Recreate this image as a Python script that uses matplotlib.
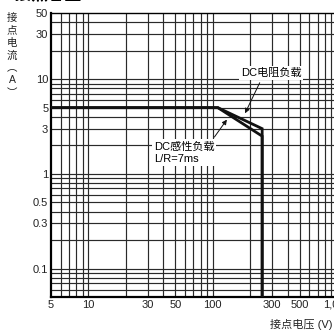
import numpy as np
import matplotlib.pyplot as plt
from matplotlib.ticker import FixedLocator, NullFormatter

plt.rcParams['font.family'] = ['Liberation Sans', 'Noto Sans CJK SC', 'DejaVu Sans']

# switching limit curves (voltage V, current A)
res_v = [5, 110, 250, 250]
res_a = [5, 5, 3, 0.05]
ind_v = [5, 110, 250, 250]
ind_a = [5, 5, 2.5, 0.05]

x_ticks = [5, 10, 30, 50, 100, 300, 500, 1000]
x_labels = ['5', '10', '30', '50', '100', '300', '500', '1,000']
y_ticks = [0.1, 0.3, 0.5, 1, 3, 5, 10, 30, 50]
y_labels = ['0.1', '0.3', '0.5', '1', '3', '5', '10', '30', '50']

W, H = 334, 331
fig = plt.figure(figsize=(W / 100, H / 100), dpi=100)
ax = fig.add_axes([51 / W, 1 - 297 / H, (337 - 51) / W, (297 - 13) / H])
ax.set_xscale('log')
ax.set_yscale('log')
ax.set_xlim(5, 1000)
ax.set_ylim(0.05, 50)

# log grid: every 1..9 step in each decade
xg = [m * 10 ** e for e in range(0, 3) for m in range(1, 10)] + [1000]
yg = [m * 10 ** e for e in range(-2, 2) for m in range(1, 10)]
xg = [v for v in xg if 5 < v <= 1000]
yg = [v for v in yg if 0.05 < v < 50]
for v in xg:
    ax.axvline(v, color='#2a2a2a', lw=0.85, zorder=1)
for v in yg:
    ax.axhline(v, color='#2a2a2a', lw=0.85, zorder=1)

ax.plot(res_v, res_a, color='#111111', lw=2.0, zorder=3, solid_joinstyle='miter')
ax.plot(ind_v, ind_a, color='#111111', lw=2.0, zorder=3, solid_joinstyle='miter')

ax.xaxis.set_major_locator(FixedLocator(x_ticks))
ax.yaxis.set_major_locator(FixedLocator(y_ticks))
ax.xaxis.set_minor_formatter(NullFormatter())
ax.yaxis.set_minor_formatter(NullFormatter())
ax.set_xticklabels(x_labels)
ax.set_yticklabels(y_labels)
ax.tick_params(which='both', length=0, labelsize=8, colors='#222222', pad=2)

for s in ['left', 'bottom']:
    ax.spines[s].set_linewidth(1.6)
for s in ['top', 'right']:
    ax.spines[s].set_linewidth(1.0)

box = dict(facecolor='white', edgecolor='none', pad=1.5)
ax.annotate('DC电阻负载', xy=(178, 4.1), xytext=(168, 11.6),
            fontsize=8, va='center', ha='left', bbox=box, zorder=5,
            arrowprops=dict(arrowstyle='-|>', color='#111111', lw=0.7,
                            mutation_scale=7, relpos=(0.35, 0.0)))
ax.annotate('DC感性负载\nL/R=7ms', xy=(134, 3.95), xytext=(33.5, 2.2),
            fontsize=8, va='top', ha='left', bbox=box, zorder=5,
            linespacing=1.3,
            arrowprops=dict(arrowstyle='-|>', color='#111111', lw=0.7,
                            mutation_scale=7, relpos=(0.95, 1.0)))

fig.text(12 / W, 1 - 13 / H, '接\n点\n电\n流\n︵\nA\n︶', fontsize=7.5,
         ha='center', va='top', linespacing=1.3, color='#222222')
fig.text(270 / W, 1 - 325 / H, '接点电压 (V)', fontsize=8,
         ha='left', va='center', color='#222222')
fig.text(0.0, 1 - 3 / H, '■ 接点容量', fontsize=12, fontweight='bold',
         ha='left', va='bottom')

fig.savefig('out.png', dpi=100)
